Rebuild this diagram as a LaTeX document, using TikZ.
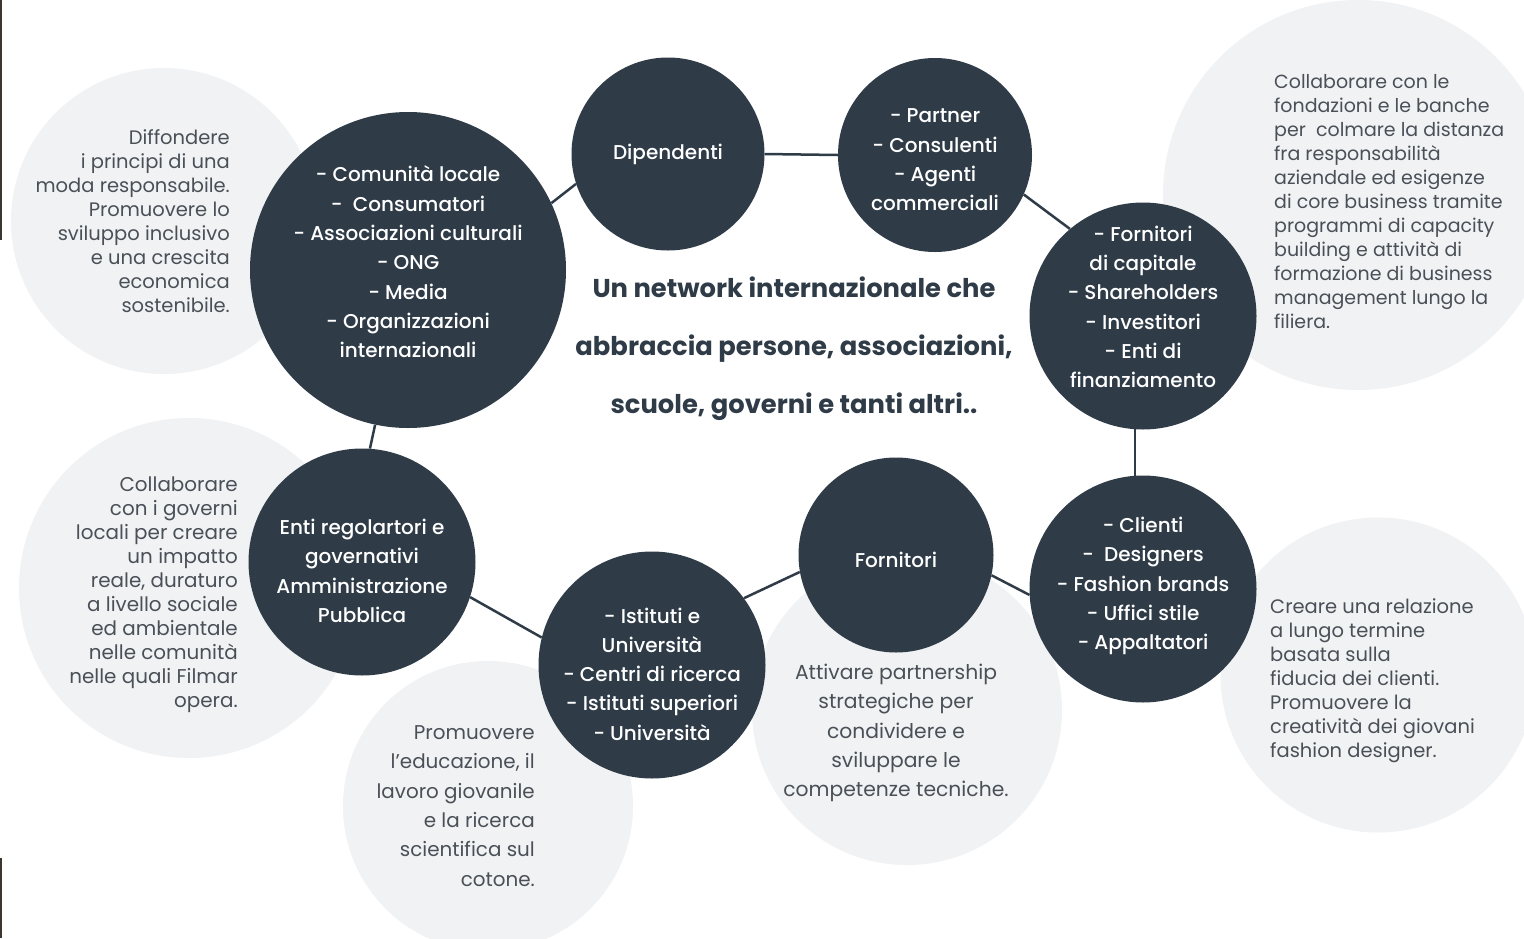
\documentclass[tikz,border=0pt]{standalone}
\usepackage{fontspec}
\setmainfont{Poppins}
\newfontfamily\medfont{Poppins Medium}
\newfontfamily\bookfont{Poppins}
\newfontfamily\heavyfont{Poppins Bold}
\definecolor{slate}{HTML}{2F3C48}
\definecolor{mist}{HTML}{F1F2F3}
\definecolor{ash}{HTML}{4A5058}
\definecolor{edgebrown}{HTML}{3C3630}

\begin{document}
\begin{tikzpicture}[x=1pt,y=-1pt,
    group/.style={circle,fill=slate,text=white,align=center,inner sep=0pt,
      font=\medfont\fontsize{20}{29.3}\selectfont},
    halo/.style={circle,fill=mist,inner sep=0pt},
    aim/.style={text=ash,inner sep=0pt,font=\bookfont\fontsize{19.5}{24}\selectfont},
    link/.style={draw=slate,line width=2.5pt}]
		\useasboundingbox (0,0) rectangle (1524,938);
		\clip (0,0) rectangle (1524,938);
		\fill[white] (0,0) rectangle (1524,938);
		\fill[edgebrown] (0,0) rectangle (2,240);
		\fill[edgebrown] (0,858) rectangle (2,938);
		% light circles with the aims
		\node[halo,minimum size=306pt] (hCom) at (164,221) {};
		\node[halo,minimum size=340pt] (hGov) at (189,588) {};
		\node[halo,minimum size=290pt] (hEdu) at (488,806) {};
		\node[halo,minimum size=310pt] (hSup) at (907,710) {};
		\node[halo,minimum size=315pt] (hCli) at (1378,675) {};
		\node[halo,minimum size=390pt] (hCap) at (1358,195) {};
		\node[aim,anchor=east,align=right] (aCom) at (230,221) {Diffondere\\i principi di una\\moda responsabile.\\Promuovere lo\\sviluppo inclusivo\\e una crescita\\economica\\sostenibile.};
		\node[aim,anchor=east,align=right,font=\bookfont\fontsize{19.9}{24}\selectfont] (aGov) at (238,595) {Collaborare\\con i governi\\locali per creare\\un impatto\\reale, duraturo\\a livello sociale\\ed ambientale\\nelle comunità\\nelle quali Filmar\\opera.};
		\node[aim,anchor=east,align=right,font=\bookfont\fontsize{19.9}{29.4}\selectfont] (aEdu) at (535,806) {Promuovere\\l’educazione, il\\lavoro giovanile\\e la ricerca\\scientifica sul\\cotone.};
		\node[aim,align=center,font=\bookfont\fontsize{20.3}{29.3}\selectfont] (aSup) at (896,733) {Attivare partnership\\strategiche per\\condividere e\\sviluppare le\\competenze tecniche.};
		\node[aim,anchor=west,align=left] (aCli) at (1270,681) {Creare una relazione\\a lungo termine\\basata sulla\\fiducia dei clienti.\\Promuovere la\\creatività dei giovani\\fashion designer.};
		\node[aim,anchor=west,align=left,font=\bookfont\fontsize{19}{24}\selectfont] (aCap) at (1274,202) {Collaborare con le\\fondazioni e le banche\\per \ colmare la distanza\\fra responsabilità\\aziendale ed esigenze\\di core business tramite\\programmi di capacity\\building e attività di\\formazione di business\\management lungo la\\filiera.};
		% stakeholder circles
		\node[group,minimum size=316pt] (comunita) at (408,270) {};
		\node[group,minimum size=193pt] (dipendenti) at (668,154) {};
		\node[group,minimum size=194pt] (partner) at (935,155) {};
		\node[group,minimum size=227pt] (capitale) at (1143,316) {};
		\node[group,minimum size=227pt] (clienti) at (1143,589) {};
		\node[group,minimum size=195pt] (fornitori) at (896,555) {};
		\node[group,minimum size=227pt] (istituti) at (652,665) {};
		\node[group,minimum size=227pt] (enti) at (362,562) {};
		\draw[link] (comunita.25) -- (dipendenti.198);
		\draw[link] (dipendenti.0) -- (partner.180);
		\draw[link] (partner.-24) -- (capitale.130);
		\draw[link] (capitale.266) -- (clienti.94);
		\draw[link] (clienti.183) -- (fornitori.-12);
		\draw[link] (fornitori.190) -- (istituti.36);
		\draw[link] (istituti.166) -- (enti.-18);
		\draw[link] (enti.86) -- (comunita.258);
		% texts in the circles
		\node[group,fill=none] (tCom) at (408,262) {- Comunità locale\\- \ Consumatori\\- Associazioni culturali\\- ONG\\- Media\\- Organizzazioni\\internazionali};
		\node[group,fill=none] (tDip) at (668,154) {Dipendenti};
		\node[group,fill=none] (tPar) at (935,160) {- Partner\\- Consulenti\\- Agenti\\commerciali};
		\node[group,fill=none] (tCap) at (1143,307) {- Fornitori\\di capitale\\- Shareholders\\- Investitori\\- Enti di\\finanziamento};
		\node[group,fill=none] (tCli) at (1143,586) {- Clienti\\- \ Designers\\- Fashion brands\\- Uffici stile\\- Appaltatori};
		\node[group,fill=none] (tFor) at (896,560) {Fornitori};
		\node[group,fill=none] (tIst) at (652,674) {- Istituti e\\Università\\- Centri di ricerca\\- Istituti superiori\\- Università};
		\node[group,fill=none] (tEnt) at (362,571) {Enti regolartori e\\governativi\\Amministrazione\\Pubblica};
		\node[text=slate,align=center,font=\heavyfont\fontsize{25.8}{58}\selectfont] (title) at (794,349) {Un network internazionale che\\abbraccia persone, associazioni,\\scuole, governi e tanti altri..};
\end{tikzpicture}
\end{document}
